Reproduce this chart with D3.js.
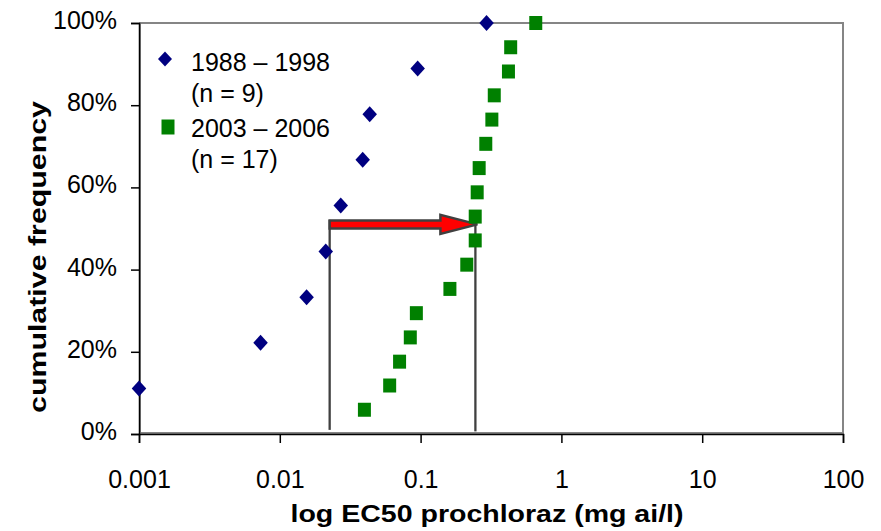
<!DOCTYPE html>
<html>
<head>
<meta charset="utf-8">
<script src="https://cdn.jsdelivr.net/npm/d3@7/dist/d3.min.js"></script>
<style>
  html, body { margin: 0; padding: 0; background: #fff; }
  svg { display: block; font-family: "Liberation Sans", Arial, sans-serif; }
</style>
</head>
<body>
<svg id="chart" width="881" height="531"></svg>
<script>
// EC50 values (mg ai/l) and their cumulative frequencies, per sampling period
const ec50Early = [0.001, 0.0073, 0.0155, 0.0212, 0.0271, 0.0388, 0.0435, 0.0953, 0.294];
const cumEarly  = [0.111, 0.222, 0.333, 0.444, 0.556, 0.667, 0.778, 0.889, 1.0];

const ec50Late = [0.0399, 0.0603, 0.0709, 0.0845, 0.0933, 0.1615, 0.2128, 0.2443, 0.2443,
                  0.2523, 0.2606, 0.2904, 0.3207, 0.3336, 0.4207, 0.4363, 0.6575];
const cumLate  = [0.059, 0.118, 0.176, 0.235, 0.294, 0.353, 0.412, 0.471, 0.529,
                  0.588, 0.647, 0.706, 0.765, 0.824, 0.882, 0.941, 1.0];

const seriesNames = ["1988 \u2013 1998", "2003 \u2013 2006"];
const seriesCounts = ["(n = 9)", "(n = 17)"];

// Shift of the median: from the early median to the late median
const medianEarly = 0.0226;
const medianLate = 0.245;
const shiftLevel = 0.51;
const dropLevel = 0.01;

const xTicks = [0.001, 0.01, 0.1, 1, 10, 100];
const xTickLabels = ["0.001", "0.01", "0.1", "1", "10", "100"];
const yTicks = [0, 0.2, 0.4, 0.6, 0.8, 1.0];
const yTickLabels = ["0%", "20%", "40%", "60%", "80%", "100%"];

const svg = d3.select("#chart");
const plot = { left: 139, right: 843, top: 23, bottom: 434 };

const x = d3.scaleLog().domain([0.001, 100]).range([plot.left, plot.right]);
const y = d3.scaleLinear().domain([0, 1]).range([plot.bottom, plot.top]);

// Plot area border
svg.append("rect")
  .attr("x", plot.left + 1).attr("y", plot.top)
  .attr("width", plot.right - plot.left - 1).attr("height", plot.bottom - plot.top - 1)
  .attr("fill", "none").attr("stroke", "#858585").attr("stroke-width", 2);

// Y axis
const yAxis = d3.axisLeft(y).tickValues(yTicks)
  .tickFormat((d, i) => yTickLabels[i]).tickSize(8).tickPadding(14);
const gy = svg.append("g").attr("transform", `translate(${plot.left},0)`).call(yAxis);
gy.select(".domain").attr("stroke", "#000").attr("stroke-width", 1.5);
gy.selectAll(".tick line").attr("stroke", "#000").attr("stroke-width", 1.5);
gy.selectAll(".tick text").attr("font-size", 25).attr("fill", "#000")
  .attr("font-family", "Liberation Sans, Arial, sans-serif").attr("dy", "0.22em");

// X axis
const xAxis = d3.axisBottom(x).tickValues(xTicks)
  .tickFormat((d, i) => xTickLabels[i]).tickSize(9).tickPadding(27);
const gx = svg.append("g").attr("transform", `translate(0,${plot.bottom})`).call(xAxis);
gx.select(".domain").attr("stroke", "#000").attr("stroke-width", 1.5);
gx.selectAll(".tick line").attr("stroke", "#000").attr("stroke-width", 1.5);
gx.selectAll(".tick text").attr("font-size", 25).attr("fill", "#000")
  .attr("font-family", "Liberation Sans, Arial, sans-serif");

// Axis titles
svg.append("text")
  .attr("x", 487).attr("y", 521.5)
  .attr("text-anchor", "middle")
  .attr("font-size", 23.5).attr("font-weight", "bold")
  .attr("textLength", 393).attr("lengthAdjust", "spacingAndGlyphs")
  .text("log EC50 prochloraz (mg ai/l)");

svg.append("text")
  .attr("transform", "translate(45.5,257) rotate(-90)")
  .attr("text-anchor", "middle")
  .attr("font-size", 24).attr("font-weight", "bold")
  .attr("textLength", 312).attr("lengthAdjust", "spacingAndGlyphs")
  .text("cumulative frequency");

// Median guide lines
const guide = "#404040";
svg.append("line")
  .attr("x1", x(medianEarly)).attr("x2", x(medianEarly))
  .attr("y1", y(dropLevel)).attr("y2", y(shiftLevel) - 4.5)
  .attr("stroke", guide).attr("stroke-width", 2.3);
svg.append("line")
  .attr("x1", x(medianLate)).attr("x2", x(medianLate))
  .attr("y1", y(dropLevel) + 1.5).attr("y2", y(shiftLevel))
  .attr("stroke", guide).attr("stroke-width", 2.3);

// Block arrow showing the shift
const ax0 = x(medianEarly), ax1 = x(medianLate) + 2, ay = y(shiftLevel);
const headLen = 37, shaftHalf = 4, headHalf = 9.5;
const arrowPath = d3.path();
arrowPath.moveTo(ax0, ay - shaftHalf);
arrowPath.lineTo(ax1 - headLen, ay - shaftHalf);
arrowPath.lineTo(ax1 - headLen, ay - headHalf);
arrowPath.lineTo(ax1, ay);
arrowPath.lineTo(ax1 - headLen, ay + headHalf);
arrowPath.lineTo(ax1 - headLen, ay + shaftHalf);
arrowPath.lineTo(ax0, ay + shaftHalf);
arrowPath.closePath();
svg.append("path").attr("d", arrowPath.toString())
  .attr("fill", "#ff0000").attr("stroke", guide).attr("stroke-width", 2.5)
  .attr("stroke-linejoin", "miter");

// Markers
const blue = "#000080", green = "#008000";
const diamond = (w, h) => `M0,${-h / 2}L${w / 2},0L0,${h / 2}L${-w / 2},0Z`;

svg.append("g").selectAll("path")
  .data(ec50Late.map((v, i) => [v, cumLate[i]]))
  .join("path")
  .attr("transform", d => `translate(${x(d[0])},${y(d[1])})`)
  .attr("d", "M-6.5,-7H6.5V7H-6.5Z")
  .attr("fill", green);

svg.append("g").selectAll("path")
  .data(ec50Early.map((v, i) => [v, cumEarly[i]]))
  .join("path")
  .attr("transform", d => `translate(${x(d[0])},${y(d[1])})`)
  .attr("d", diamond(14.5, 16))
  .attr("fill", blue);

// Legend
const legend = svg.append("g").attr("font-size", 25).attr("fill", "#000");
legend.append("path").attr("transform", "translate(165,59)")
  .attr("d", diamond(14, 15)).attr("fill", blue);
legend.append("text").attr("x", 191).attr("y", 71).text(seriesNames[0]);
legend.append("text").attr("x", 191).attr("y", 101.5).text(seriesCounts[0]);
legend.append("path").attr("transform", "translate(168,127)")
  .attr("d", "M-6.5,-7.5H6.5V7.5H-6.5Z").attr("fill", green);
legend.append("text").attr("x", 191).attr("y", 137).text(seriesNames[1]);
legend.append("text").attr("x", 191).attr("y", 167.5).text(seriesCounts[1]);
</script>
</body>
</html>
